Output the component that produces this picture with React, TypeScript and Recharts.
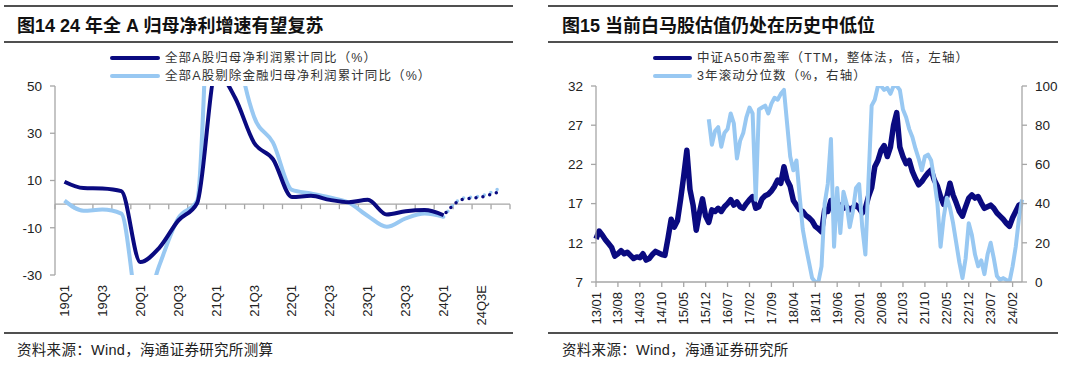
import React from 'react';
import { LineChart, Line, XAxis, YAxis, ReferenceLine } from 'recharts';

// 图14: 全部A股归母净利润累计同比（%），按季度
const quarters = [
  '19Q1', '19Q2', '19Q3', '19Q4', '20Q1', '20Q2', '20Q3', '20Q4',
  '21Q1', '21Q2', '21Q3', '21Q4', '22Q1', '22Q2', '22Q3', '22Q4',
  '23Q1', '23Q2', '23Q3', '23Q4', '24Q1', '24Q2E', '24Q3E', '24Q4E',
];
const profitAll = [9.5, 6.8, 6.6, 5.5, -24.5, -18.5, -7, 0.5, 56, 45, 26, 19, 3, 3.5, 1.8, 0.8, 1.8, -4.4, -3, -2.5, -4.7];
const profitExFin = [1.5, -2.8, -2.3, -4, -48, -26, -6, 1.5, 150, 74, 37, 26, 6, 4.5, 2.8, 0.6, -5, -9.6, -6, -4, -5.4];
// forecast starts from 24Q1
const forecastFrom = 20;
const profitAllE = [-4.7, 2, 3, 5.5];
const profitExFinE = [-5.4, 2.5, 3.5, 7];
const profitTicks = [-30, -10, 10, 30, 50];

// 图15: 中证A50市盈率, monthly from 2013/01
const monthLabels = [
  '13/01', '13/08', '14/03', '14/10', '15/05', '15/12', '16/07', '17/02', '17/09', '18/04',
  '18/11', '19/06', '20/01', '20/08', '21/03', '21/10', '22/05', '22/12', '23/07', '24/02',
];
const peA50 = [
  12.5, 13.5, 13.0, 12.4, 11.9, 11.4, 10.3, 10.6, 11.0, 10.6, 10.8, 10.4,
  10.0, 10.2, 10.1, 10.6, 9.8, 10.0, 10.5, 10.9, 10.7, 10.5, 10.4, 12.6,
  15.0, 14.0, 14.8, 17.5, 20.5, 23.8, 18.8, 16.8, 13.6, 15.8, 17.6, 15.4,
  14.6, 16.2, 16.0, 16.4, 16.0, 16.6, 17.0, 17.5, 16.8, 17.2, 16.6, 16.4,
  17.0, 17.5, 17.9, 16.4, 16.6, 17.6, 18.0, 18.2, 18.6, 19.2, 20.0, 19.6,
  21.7, 20.0, 19.2, 17.4, 16.8, 16.2, 16.0, 15.5, 15.2, 14.8, 14.1, 13.8,
  13.4, 16.2, 16.0, 17.4, 16.6, 16.4, 16.8, 16.4, 16.6, 16.2, 16.5, 16.8,
  16.4, 15.8, 16.4, 17.9, 19.0, 21.7, 22.5, 23.8, 24.4, 23.0, 24.2, 27.0,
  28.6, 24.2, 23.0, 22.1, 22.5, 21.1, 20.2, 19.4, 19.8, 20.4, 20.9, 21.3,
  20.0, 19.2, 17.9, 16.9, 17.9, 19.6, 18.1, 17.1, 16.0, 15.4, 16.6, 17.7,
  18.1, 17.7, 17.9, 17.1, 16.4, 16.6, 16.8, 16.4, 15.8, 15.4, 15.0, 14.5,
  14.1, 15.2, 16.0, 16.8, 17.0,
];
// 3年滚动分位数 starts 2015/12
const pctStart = 36;
const pct3y = [
  83, 70, 77, 79, 69, 76, 78, 86, 81, 63, 72, 76,
  84, 89, 86, 42, 88, 89, 90, 86, 91, 94, 93, 96,
  98, 81, 64, 57, 62, 44, 27, 18, 10, 2, 0, 0,
  8, 40, 50, 73, 18, 48, 25, 46, 40, 28, 36, 48,
  50, 28, 14, 52, 90, 93, 100, 100, 98, 99, 96, 100,
  100, 98, 88, 84, 78, 74, 68, 63, 57, 64, 65, 62,
  52, 40, 18, 33, 43, 38, 30, 20, 10, 2, 12, 30,
  24, 14, 8, 11, 4, 14, 20, 12, 3, 1, 2, 1,
  0, 8, 18, 32, 42,
];
const peTicks = [7, 12, 17, 22, 27, 32];
const pctTicks = [0, 20, 40, 60, 80, 100];

const NAVY = '#0a0a80';
const SKY = '#98c8f2';
const AXIS = '#a6a6a6';
const TEXT = '#222';
const FONT = '"Liberation Sans", Arial, "Noto Sans CJK SC", sans-serif';

const profitData = quarters.map((q, i) => ({
  i,
  q,
  all: i < profitAll.length ? profitAll[i] : null,
  exFin: i < profitExFin.length ? profitExFin[i] : null,
  allE: i >= forecastFrom ? profitAllE[i - forecastFrom] : null,
  exFinE: i >= forecastFrom ? profitExFinE[i - forecastFrom] : null,
}));
const quarterTicks = quarters.map((_, i) => i).filter((i) => i % 2 === 0);

const peData = peA50.map((v, m) => ({
  m,
  pe: v,
  pct: m >= pctStart ? pct3y[m - pctStart] : null,
}));
const monthTicks = monthLabels.map((_, k) => k * 7);

const vertTick = (labelOf: (v: number) => string) => (p: any) => (
  <text
    x={p.x}
    y={p.y}
    transform={`rotate(-90 ${p.x} ${p.y})`}
    textAnchor="end"
    dominantBaseline="central"
    fontSize={13}
    fill={TEXT}
    fontFamily={FONT}
  >
    {labelOf(p.payload.value)}
  </text>
);

// zero line doubles as the category axis, with a tick at every quarter boundary
const zeroAxis = (p: any) => {
  const step = (p.x2 - p.x1) / quarters.length;
  return (
    <g>
      <line x1={p.x1} y1={p.y1} x2={p.x2} y2={p.y2} stroke={AXIS} strokeWidth={1.3} />
      {[...quarters, ''].map((_, k) => (
        <line
          key={k}
          x1={p.x1 + k * step}
          x2={p.x1 + k * step}
          y1={p.y1}
          y2={p.y1 + 5}
          stroke={AXIS}
          strokeWidth={1.3}
        />
      ))}
    </g>
  );
};

const yTick = { fontSize: 13.5, fill: TEXT, fontFamily: FONT };

function Rule({ left, top, width }: { left: number; top: number; width: number }) {
  return <div style={{ position: 'absolute', left, top, width, height: 2, background: '#505050' }} />;
}

function LegendItem(props: { left: number; top: number; len: number; color: string; text: string }) {
  const { left, top, len, color, text } = props;
  return (
    <>
      <div style={{ position: 'absolute', left, top: top - 2, width: len, height: 4, background: color, borderRadius: 2 }} />
      <div
        style={{
          position: 'absolute',
          left: left + len + 5,
          top: top - 9,
          lineHeight: '18px',
          fontSize: 12.5,
          letterSpacing: 1.1,
          color: '#333',
          fontFamily: FONT,
          whiteSpace: 'nowrap',
        }}
      >
        {text}
      </div>
    </>
  );
}

const titleStyle: React.CSSProperties = {
  position: 'absolute',
  top: 15,
  lineHeight: '22px',
  fontSize: 18,
  fontWeight: 700,
  color: '#111',
  fontFamily: FONT,
  whiteSpace: 'nowrap',
};
const sourceStyle: React.CSSProperties = {
  position: 'absolute',
  top: 341,
  lineHeight: '18px',
  fontSize: 14.5,
  letterSpacing: 0.3,
  color: TEXT,
  fontFamily: FONT,
  whiteSpace: 'nowrap',
};

function ProfitChart() {
  return (
    <div style={{ position: 'absolute', left: 0, top: 80 }}>
      <LineChart width={540} height={250} data={profitData} margin={{ top: 6, right: 30, bottom: 0, left: 0 }}>
        <XAxis
          dataKey="i"
          type="number"
          domain={[-0.5, quarters.length - 0.5]}
          ticks={quarterTicks}
          interval={0}
          height={55}
          axisLine={false}
          tickLine={false}
          tickSize={0}
          tickMargin={10}
          tick={vertTick((v) => quarters[v])}
        />
        <YAxis
          domain={[-30, 50]}
          ticks={profitTicks}
          allowDataOverflow
          interval={0}
          width={55}
          axisLine={{ stroke: AXIS, strokeWidth: 1.3 }}
          tickLine={{ stroke: AXIS, strokeWidth: 1.3 }}
          tickSize={5}
          tickMargin={8}
          tick={yTick}
        />
        <ReferenceLine y={0} shape={zeroAxis} />
        <Line dataKey="exFin" type="monotone" stroke={SKY} strokeWidth={4} dot={false} activeDot={false} isAnimationActive={false} />
        <Line dataKey="exFinE" type="monotone" stroke={SKY} strokeWidth={3.5} strokeDasharray="0 7" strokeLinecap="round" dot={false} activeDot={false} isAnimationActive={false} />
        <Line dataKey="all" type="monotone" stroke={NAVY} strokeWidth={4} dot={false} activeDot={false} isAnimationActive={false} />
        <Line dataKey="allE" type="monotone" stroke={NAVY} strokeWidth={3.5} strokeDasharray="0 7" strokeDashoffset={3.5} strokeLinecap="round" dot={false} activeDot={false} isAnimationActive={false} />
      </LineChart>
    </div>
  );
}

function PeChart() {
  return (
    <div style={{ position: 'absolute', left: 540, top: 80 }}>
      <LineChart width={540} height={250} data={peData} margin={{ top: 6, right: 0, bottom: 0, left: 0 }}>
        <XAxis
          dataKey="m"
          type="number"
          domain={[0, peA50.length - 1]}
          ticks={monthTicks}
          interval={0}
          height={48}
          axisLine={{ stroke: AXIS, strokeWidth: 1.3 }}
          tickLine={{ stroke: AXIS, strokeWidth: 1.3 }}
          tickSize={5}
          tickMargin={5}
          tick={vertTick((v) => monthLabels[v / 7])}
        />
        <YAxis
          yAxisId="pe"
          domain={[7, 32]}
          ticks={peTicks}
          allowDataOverflow
          interval={0}
          width={56}
          axisLine={{ stroke: AXIS, strokeWidth: 1.3 }}
          tickLine={{ stroke: AXIS, strokeWidth: 1.3 }}
          tickSize={5}
          tickMargin={8}
          tick={yTick}
        />
        <YAxis
          yAxisId="pct"
          orientation="right"
          domain={[0, 100]}
          ticks={pctTicks}
          allowDataOverflow
          interval={0}
          width={58}
          axisLine={{ stroke: AXIS, strokeWidth: 1.3 }}
          tickLine={{ stroke: AXIS, strokeWidth: 1.3 }}
          tickSize={5}
          tickMargin={8}
          tick={yTick}
        />
        <Line yAxisId="pe" dataKey="pe" type="linear" stroke={NAVY} strokeWidth={5.5} strokeLinejoin="round" dot={false} activeDot={false} isAnimationActive={false} />
        <Line yAxisId="pct" dataKey="pct" type="linear" stroke={SKY} strokeWidth={4} strokeLinejoin="round" dot={false} activeDot={false} isAnimationActive={false} />
      </LineChart>
    </div>
  );
}

export default function App() {
  return (
    <div style={{ position: 'absolute', left: 0, top: 0, width: 1080, height: 367, background: '#fff', overflow: 'hidden' }}>
      {/* left panel */}
      <Rule left={4} top={5} width={509} />
      <div style={{ ...titleStyle, left: 17 }}>图14 24 年全 A 归母净利增速有望复苏</div>
      <Rule left={4} top={41} width={509} />
      <LegendItem left={110} top={58} len={50} color={NAVY} text="全部A股归母净利润累计同比（%）" />
      <LegendItem left={110} top={76} len={50} color={SKY} text="全部A股剔除金融归母净利润累计同比（%）" />
      <ProfitChart />
      <Rule left={4} top={332} width={509} />
      <div style={{ ...sourceStyle, left: 17 }}>资料来源：Wind，海通证券研究所测算</div>

      {/* right panel */}
      <Rule left={548} top={5} width={510} />
      <div style={{ ...titleStyle, left: 562 }}>图15 当前白马股估值仍处在历史中低位</div>
      <Rule left={548} top={41} width={510} />
      <LegendItem left={653} top={58} len={39} color={NAVY} text="中证A50市盈率（TTM，整体法，倍，左轴）" />
      <LegendItem left={653} top={76} len={39} color={SKY} text="3年滚动分位数（%，右轴）" />
      <PeChart />
      <Rule left={548} top={332} width={510} />
      <div style={{ ...sourceStyle, left: 562 }}>资料来源：Wind，海通证券研究所</div>
    </div>
  );
}
